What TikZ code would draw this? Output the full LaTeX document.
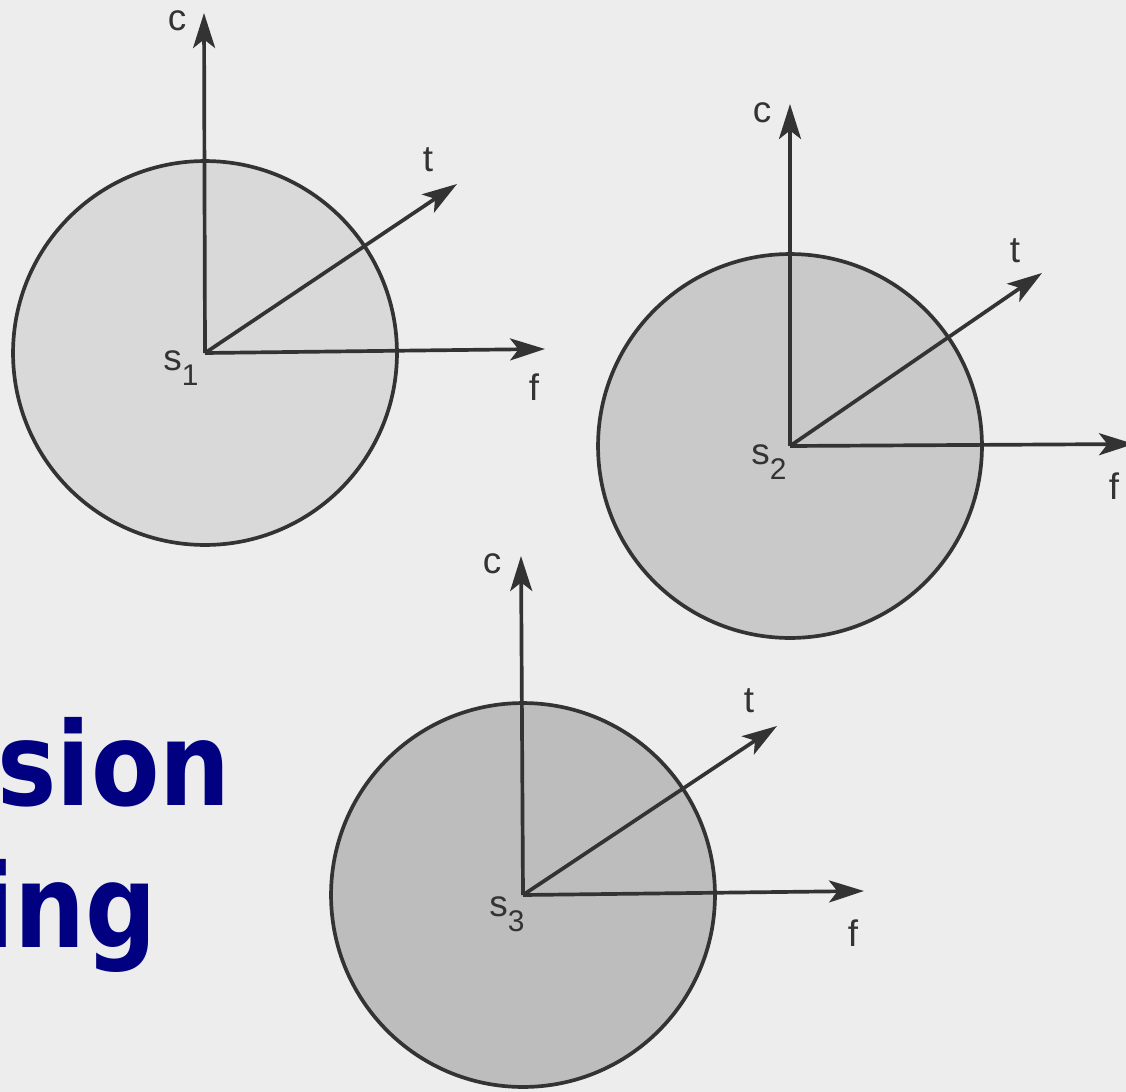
\documentclass[tikz,border=0pt]{standalone}
\usepackage{fontspec}
\setmainfont{Liberation Sans}
\newfontfamily\titlefont[FakeStretch=0.86]{DejaVu Sans}
\usetikzlibrary{arrows.meta,positioning}
\definecolor{navytitle}{RGB}{0,0,128}
\newcommand{\sub}[1]{\raisebox{-0.4em}{\fontsize{17}{17}\selectfont#1}}

\begin{document}
\begin{tikzpicture}[x=0.02cm,y=-0.02cm,
 disc/.style={circle,draw=black!80,line width=2.1pt,minimum size=7.68cm,inner sep=0pt},
 axis/.style={draw=black!80,line width=2.1pt,-{Stealth[length=0.7cm,width=0.44cm,inset=0.17cm]}},
 lab/.style={font=\fontsize{21}{21}\selectfont,text=black!80,inner sep=1pt},
 title/.style={font=\titlefont\bfseries\fontsize{66}{66}\selectfont,text=navytitle,anchor=base east,inner sep=0pt}]
\fill[black!7] (0,0) rectangle (1126,1092);
\useasboundingbox (0,0) rectangle (1126,1092);
\node[title] (tsion) at (231,805) {sion};
\node[title] (ting) at (157,947) {ing};
\coordinate (o1) at (205,353);
\coordinate (o2) at (790,446);
\coordinate (o3) at (523,895);
\node[disc,fill=black!15] (d1) at (o1) {};
\node[disc,fill=black!21] (d2) at (o2) {};
\node[disc,fill=black!26] (d3) at (o3) {};
\coordinate (c1) at (204,13);\coordinate (t1) at (457,184);\coordinate (f1) at (545,349);
\coordinate (c2) at (790,104);\coordinate (t2) at (1042,273);\coordinate (f2) at (1134,444);
\coordinate (c3) at (521,556);\coordinate (t3) at (777,726);\coordinate (f3) at (864,891);
\draw[axis] (o1)--(c1);\draw[axis] (o1)--(t1);\draw[axis] (o1)--(f1);
\draw[axis] (o2)--(c2);\draw[axis] (o2)--(t2);\draw[axis] (o2)--(f2);
\draw[axis] (o3)--(c3);\draw[axis] (o3)--(t3);\draw[axis] (o3)--(f3);
\node[lab] (lc1) at (177,21) {c};
\node[lab] (lt1) at (428,160) {t};
\node[lab] (lf1) at (534,387) {f};
\node[lab] (ls1) at (181,368) {s\sub{1}};
\node[lab] (lc2) at (762,113) {c};
\node[lab] (lt2) at (1015,251) {t};
\node[lab] (lf2) at (1114,486) {f};
\node[lab] (ls2) at (769,462) {s\sub{2}};
\node[lab] (lc3) at (492,564) {c};
\node[lab] (lt3) at (749,701) {t};
\node[lab] (lf3) at (853,933) {f};
\node[lab] (ls3) at (507,914) {s\sub{3}};
\end{tikzpicture}
\end{document}
